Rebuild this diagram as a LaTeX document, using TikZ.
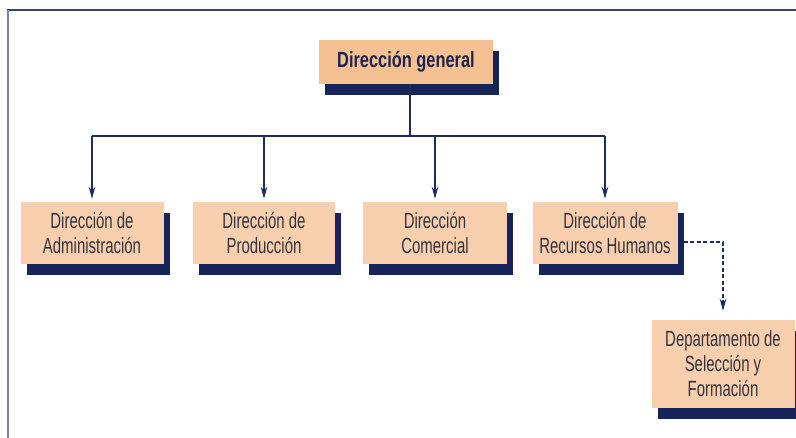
\documentclass[tikz,border=0pt]{standalone}
\usepackage{fontspec}
\usetikzlibrary{arrows.meta,shadows}
\newfontfamily\orgfont{Liberation Sans}[FakeStretch=0.68]
\newfontfamily\orgtopfont{Liberation Sans}[FakeStretch=0.745]
\definecolor{boxtop}{HTML}{F5C192}
\definecolor{boxfill}{HTML}{F7CFAD}
\definecolor{navy}{HTML}{16245A}
\definecolor{linecol}{HTML}{1F2D5E}
\definecolor{txtdark}{HTML}{34323F}
\definecolor{txttop}{HTML}{1E2250}
\definecolor{frametop}{HTML}{34456F}
\definecolor{frameleft}{HTML}{7482AE}
\tikzset{
  orgbox/.style={fill=boxfill, draw=none, align=center, text=txtdark,
    inner sep=0pt, font=\orgfont\fontsize{22}{25}\selectfont,
    drop shadow={shadow xshift=6pt, shadow yshift=-11pt, fill=navy, opacity=1}},
  conn/.style={draw=linecol, line width=2pt},
  arr/.style={conn, -{Stealth[length=12pt,width=6.5pt]}},
  darr/.style={conn, dash pattern=on 4pt off 2.5pt, -{Stealth[length=12pt,width=6.5pt]}}
}
\begin{document}
\begin{tikzpicture}[x=1pt,y=-1pt]
\useasboundingbox (0,0) rectangle (796,438);
\fill[white] (0,0) rectangle (796,438);
% frame
\draw[frametop, line width=2pt] (7,10) -- (796,10);
\draw[frameleft, line width=2pt] (8,10) -- (8,438);
% boxes
\node[orgbox, fill=boxtop, text=txttop, minimum width=174pt, minimum height=44pt,
  font=\orgtopfont\bfseries\fontsize{22}{24}\selectfont] (top) at (406,62) {Dirección general};
\node[orgbox, minimum width=143pt, minimum height=62pt] (b1) at (92,233) {Dirección de\\Administración};
\node[orgbox, minimum width=142pt, minimum height=62pt] (b2) at (264,233) {Dirección de\\Producción};
\node[orgbox, minimum width=144pt, minimum height=62pt] (b3) at (435,233) {Dirección\\Comercial};
\node[orgbox, minimum width=145pt, minimum height=62pt] (b4) at (605,233) {Dirección de\\Recursos Humanos};
\node[orgbox, minimum width=143pt, minimum height=88pt] (b5) at (723,364) {Departamento de\\Selección y\\Formación};
% connectors
\coordinate (j) at (410,136);
\draw[conn] (top.south -| j) -- (j);
\draw[conn] (b1.north |- j) -- (b4.north |- j);
\foreach \b in {b1,b2,b3,b4}
  \draw[arr, shorten >=3pt] (\b.north |- j) -- (\b.north);
\coordinate (d) at (723,242);
\draw[darr, shorten >=9pt] ([xshift=6pt]b4.east |- d) -- (d) -- (b5.north);
\end{tikzpicture}
\end{document}
